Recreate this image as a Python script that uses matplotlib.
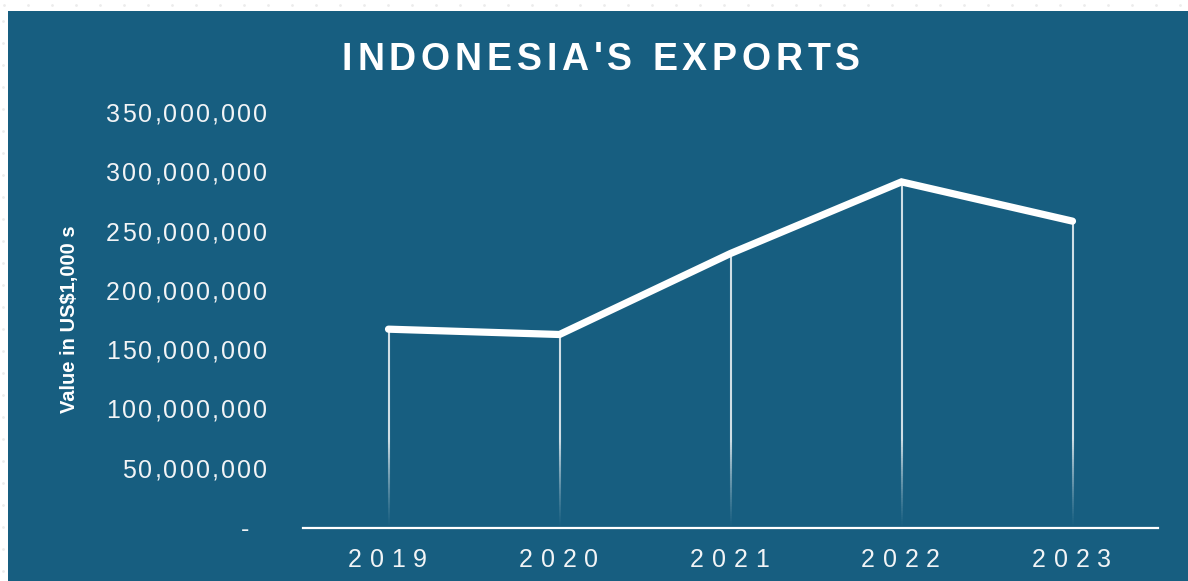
import numpy as np
import matplotlib
matplotlib.use("Agg")
import matplotlib.pyplot as plt
from matplotlib.patches import Rectangle
from matplotlib.collections import LineCollection
from matplotlib.transforms import IdentityTransform
from matplotlib.font_manager import FontProperties, findfont, get_font

# ---- data (values in US$ thousands) ----
years = ["2019", "2020", "2021", "2022", "2023"]
exports = [167683000, 163192000, 231522000, 291904000, 258797000]
y_ticks = [0, 50e6, 100e6, 150e6, 200e6, 250e6, 300e6, 350e6]
y_tick_labels = ["-  ", "50,000,000", "100,000,000", "150,000,000", "200,000,000",
                 "250,000,000", "300,000,000", "350,000,000"]
title = "INDONESIA'S EXPORTS"
y_title = "Value in US$1,000 s"

W, H, DPI = 1188, 581, 100
BLUE = "#175e80"
TXT = "#f2f4f6"

fig = plt.figure(figsize=(W / DPI, H / DPI), dpi=DPI)
fig.patch.set_facecolor("white")

# faint dotted pattern on the white frame
dot_x = np.arange(4, W, 24)
fig.add_artist(plt.Line2D(dot_x / W, np.full_like(dot_x, H - 5, dtype=float) / H,
                          transform=fig.transFigure, ls="none", marker="o", ms=1.0,
                          color="#ececec", zorder=-3))
dot_y = np.arange(10, H, 22)
fig.add_artist(plt.Line2D(np.full_like(dot_y, 3, dtype=float) / W, dot_y / H,
                          transform=fig.transFigure, ls="none", marker="o", ms=1.0,
                          color="#ececec", zorder=-3))

fig.add_artist(Rectangle((8 / W, 0), 1 - 8 / W, 1 - 11 / H, transform=fig.transFigure,
                         facecolor=BLUE, edgecolor="none", zorder=-2))

ax = fig.add_axes([303 / W, 1 - 528 / H, 855 / W, (528 - 113) / H])
ax.set_facecolor("none")
ax.set_xlim(-0.5, len(years) - 0.5)
ax.set_ylim(0, 350e6)
ax.set_axis_off()

x = np.arange(len(years))

# drop lines that fade out toward the baseline
fade_top = 75e6
for xi, v in zip(x, exports):
    ys = np.linspace(0, v, 160)
    segs = [[(xi, ys[k]), (xi, ys[k + 1])] for k in range(len(ys) - 1)]
    mids = (ys[:-1] + ys[1:]) / 2
    alpha = np.clip(mids / fade_top, 0, 1) ** 1.3 * 0.8
    cols = [(1, 1, 1, a) for a in alpha]
    ax.add_collection(LineCollection(segs, colors=cols, linewidths=1.5, zorder=2))

ax.plot(x, exports, color="white", lw=5.2, solid_capstyle="round",
        solid_joinstyle="miter", zorder=3, clip_on=False)
ax.axhline(0, color="white", lw=1.6, zorder=2, clip_on=False)


def advances(s, fp):
    font = get_font(findfont(fp))
    font.set_size(fp.get_size_in_points(), DPI)
    out = []
    for c in s:
        g = font.load_char(ord(c))
        out.append(g.linearHoriAdvance / 65536)
    return out


def tracked(s, xpos, ybase, fp, track, ha="left", color=TXT):
    adv = advances(s, fp)
    total = sum(adv) + track * (len(s) - 1)
    if ha == "center":
        x0 = xpos - total / 2
    elif ha == "right":
        x0 = xpos - total
    else:
        x0 = xpos
    for c, a in zip(s, adv):
        if c != " ":
            fig.text(x0, ybase, c, fontproperties=fp, color=color,
                     transform=IdentityTransform(), ha="left", va="baseline")
        x0 += a + track


fp_tick = FontProperties(family="Liberation Sans", size=18)
fp_x = FontProperties(family="Liberation Sans", size=18)
fp_title = FontProperties(family="Liberation Sans", weight="bold", size=27)

cap_tick = 0.716 * 18 * DPI / 72

# y tick labels
for v, lab in zip(y_ticks, y_tick_labels):
    _, yd = ax.transData.transform((0, v))
    tracked(lab, 267, yd - cap_tick / 2, fp_tick, 2.2, ha="right")

# x tick labels
for xi, lab in zip(x, years):
    xd, _ = ax.transData.transform((xi, 0))
    tracked(lab, xd - 1, H - 567, fp_x, 7.8, ha="center")

# title
tracked(title, 601, H - 69.5, fp_title, 4.8, ha="center", color="white")

# y axis title
fig.text(70 / W, 1 - 319 / H, y_title, rotation=90, ha="center", va="center",
         color="white", fontsize=14.5, fontweight="bold",
         family=["Liberation Sans Narrow", "Liberation Sans"])

fig.savefig("out.png", dpi=DPI, facecolor=fig.get_facecolor())
